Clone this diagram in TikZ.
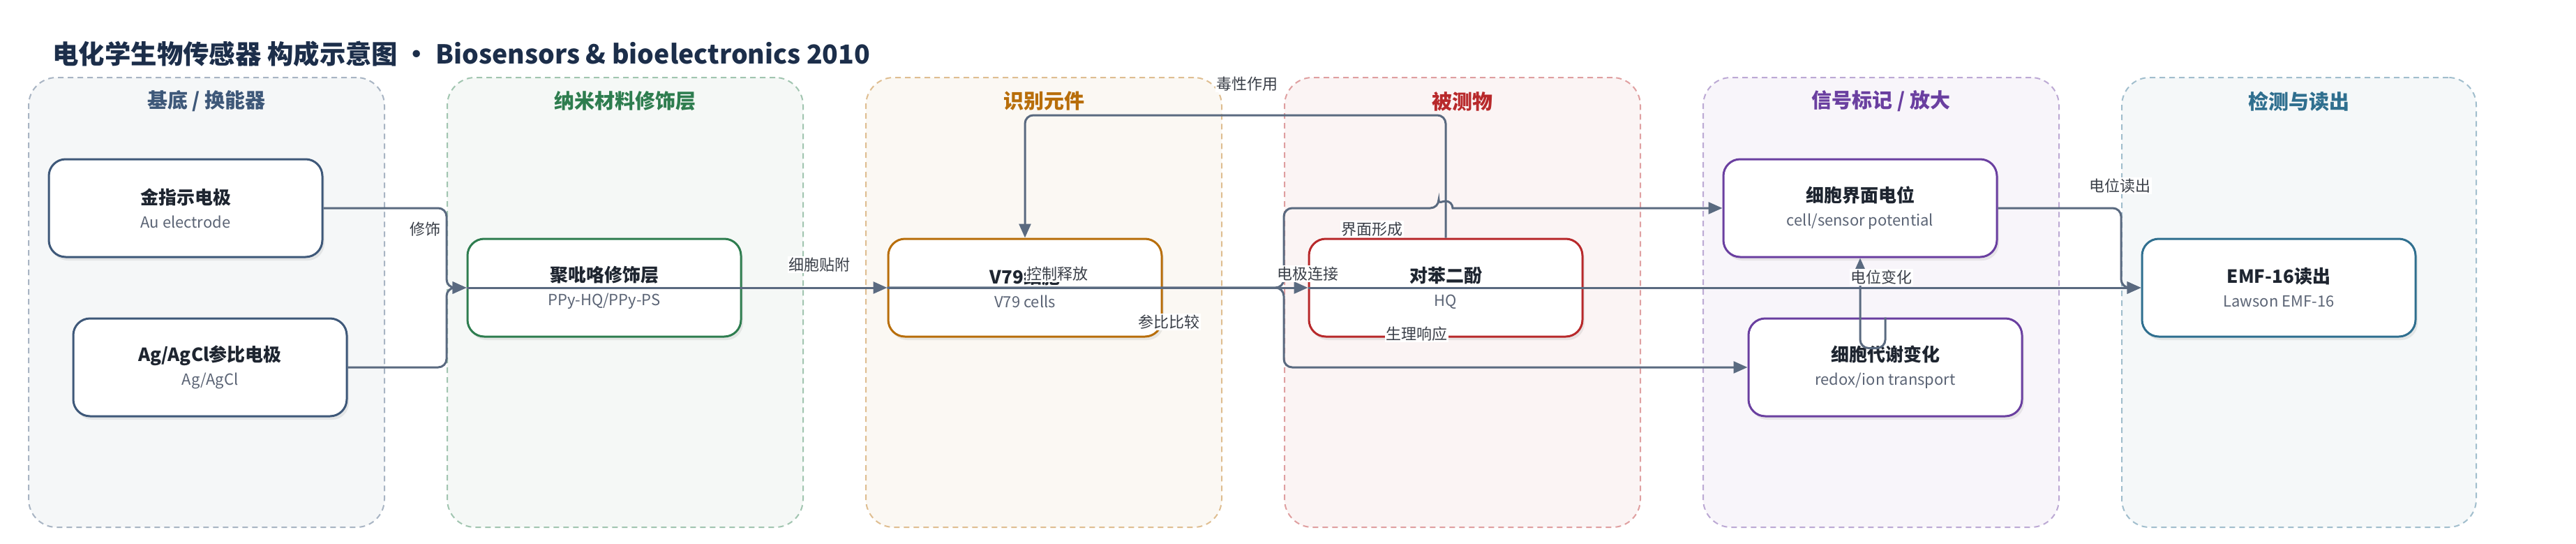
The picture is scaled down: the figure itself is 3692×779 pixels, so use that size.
\documentclass[tikz,border=0pt]{standalone}
\usepackage{fontspec}
\setmainfont{Noto Sans CJK SC}
\usetikzlibrary{arrows.meta, positioning, shadows}

\definecolor{navy}{HTML}{1C2E4A}
\definecolor{slate}{HTML}{3E5879}
\definecolor{leaf}{HTML}{2E7D4F}
\definecolor{amber}{HTML}{B86E0A}
\definecolor{brick}{HTML}{B8292B}
\definecolor{grape}{HTML}{6A3FA0}
\definecolor{teal}{HTML}{2F6F8F}
\definecolor{wire}{HTML}{5A6A80}
\definecolor{ink}{HTML}{1E2530}
\definecolor{subgray}{HTML}{5B6475}
\definecolor{lblgray}{HTML}{3A3F48}

\newcommand{\nodesub}[1]{{\mdseries\color{subgray}\fontsize{22}{30}\selectfont #1}}

\begin{document}
\begin{tikzpicture}[
        x=1pt, y=-1pt,
        grp/.style={rectangle, rounded corners=40pt, draw=#1!45, fill=#1!5, line width=2pt, dash pattern=on 8pt off 6pt, minimum width=510pt, minimum height=644pt},
        gtitle/.style={text=#1, font=\fontsize{29}{34}\selectfont\bfseries},
        box/.style={rectangle, rounded corners=24pt, draw=#1, line width=3pt, fill=white, minimum width=392pt, minimum height=140pt, align=center, text=ink, font=\fontsize{26}{34}\selectfont\bfseries, drop shadow={shadow xshift=3pt, shadow yshift=-5pt, opacity=0.15}},
        conn/.style={draw=wire, line width=3pt, rounded corners=12pt, -{Triangle[length=20pt, width=17pt]}},
        lbl/.style={fill=white, inner sep=1.5pt, text=lblgray, font=\fontsize{22}{26}\selectfont}
    ]
    \useasboundingbox (0,0) rectangle (3692,779);

    % Title
    \node (title) [anchor=west, text=navy, font=\fontsize{37.4}{44}\selectfont\bfseries] at (72,77) {电化学生物传感器 构成示意图 · Biosensors \& bioelectronics 2010};

    % Groups
    \node (g1) [grp=slate] at (296,433) {};
    \node (g2) [grp=leaf, right=88pt of g1] {};
    \node (g3) [grp=amber, right=88pt of g2] {};
    \node (g4) [grp=brick, right=88pt of g3] {};
    \node (g5) [grp=grape, right=88pt of g4] {};
    \node (g6) [grp=teal, right=88pt of g5, minimum width=508pt] {};

    \node (t1) [gtitle=slate] at ([yshift=-35pt]g1.north) {基底 / 换能器};
    \node (t2) [gtitle=leaf] at ([yshift=-35pt]g2.north) {纳米材料修饰层};
    \node (t3) [gtitle=amber] at ([yshift=-35pt]g3.north) {识别元件};
    \node (t4) [gtitle=brick] at ([yshift=-35pt]g4.north) {被测物};
    \node (t5) [gtitle=grape] at ([yshift=-35pt]g5.north) {信号标记 / 放大};
    \node (t6) [gtitle=teal] at ([yshift=-35pt]g6.north) {检测与读出};

    % Nodes
    \node (au) [box=slate] at (266,298) {金指示电极\\\nodesub{Au electrode}};
    \node (agcl) [box=slate] at (301,526) {Ag/AgCl参比电极\\\nodesub{Ag/AgCl}};
    \node (ppy) [box=leaf] at (866,412) {聚吡咯修饰层\\\nodesub{PPy-HQ/PPy-PS}};
    \node (v79) [box=amber, right=208pt of ppy] {V79细胞\\\nodesub{V79 cells}};
    \node (hq) [box=brick, right=208pt of v79] {对苯二酚\\\nodesub{HQ}};
    \node (cellpot) [box=grape] at (2666,298) {细胞界面电位\\\nodesub{cell/sensor potential}};
    \node (metab) [box=grape] at (2702,526) {细胞代谢变化\\\nodesub{redox/ion transport}};
    \node (emf) [box=teal] at (3266,412) {EMF-16读出\\\nodesub{Lawson EMF-16}};

    % Connectors
    \coordinate (toxtop) at (0,165);
    \draw [conn] (au.east) -- (au.east -| g2.west) -- (ppy.west -| g2.west) -- (ppy.west);
    \draw [conn] (agcl.east) -- (agcl.east -| g2.west) -- (ppy.west -| g2.west) -- (ppy.west);
    \draw [conn] (ppy.west) -- (v79.west);
    \draw [conn] (v79.west) -- (hq.west);
    \draw [conn] (hq.west) -- (emf.west);
    \draw [conn] (hq.north) -- (hq.north |- toxtop) -- (v79.north |- toxtop) -- (v79.north);
    \draw [conn] (v79.west) -- (v79.west -| g4.west) -- (cellpot.west -| g4.west) -- ([xshift=-10pt]hq.north |- cellpot.west) [sharp corners] arc[start angle=180, end angle=0, radius=10pt] -- (cellpot.west);
    \draw [conn] (v79.west) -- (v79.west -| g4.west) -- (metab.west -| g4.west) -- (metab.west);
    \draw [conn] (metab.north) -- ([yshift=-44pt]metab.north) -| (cellpot.south);
    \draw [conn] (cellpot.east) -- (cellpot.east -| g6.west) -- (emf.west -| g6.west) -- (emf.west);

    % Labels
    \node (l1) [lbl] at (609,328) {修饰};
    \node (l2) [lbl] at (1174,379) {细胞贴附};
    \node (l3) [lbl] at (1515,392) {控制释放};
    \node (l4) [lbl] at (1675,461) {参比比较};
    \node (l5) [lbl] at (1874,392) {电极连接};
    \node (l6) [lbl] at (1966,328) {界面形成};
    \node (l7) [lbl] at (2030,478) {生理响应};
    \node (l8) [lbl] at (1787,120) {毒性作用};
    \node (l9) [lbl] at (2696,397) {电位变化};
    \node (l10) [lbl] at (3038,266) {电位读出};

\end{tikzpicture}
\end{document}
